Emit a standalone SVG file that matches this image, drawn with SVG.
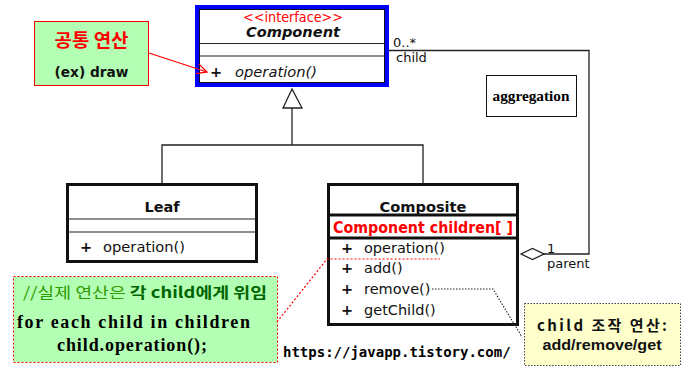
<svg xmlns="http://www.w3.org/2000/svg" width="689" height="381" viewBox="0 0 689 381">
<defs>
<style>
.uml{font-family:"DejaVu Sans","Liberation Sans",sans-serif;font-size:14.5px;fill:#111}
.b{font-weight:bold}
.box{fill:#fff;stroke:#111;stroke-width:3}
.sep{stroke:#222;stroke-width:1.2}
.conn{fill:none;stroke:#222;stroke-width:1.3}
.kr{font-family:"Noto Sans CJK KR","Noto Sans",sans-serif;font-weight:bold}
.tm{font-family:"Liberation Serif","DejaVu Serif",serif;font-weight:bold}
</style>
<marker id="redOpen" markerWidth="12" markerHeight="12" refX="11" refY="6" orient="auto" markerUnits="userSpaceOnUse">
<path d="M1,1 L11,6 L1,11" fill="none" stroke="red" stroke-width="1.3"/>
</marker>
</defs>
<rect width="689" height="381" fill="#fff"/>

<g id="component">
<rect x="197" y="7" width="190" height="78" fill="#fff" stroke="#0000ff" stroke-width="4"/>
<rect x="196" y="83" width="192" height="4" fill="#0000ff"/>
<rect x="199.5" y="9.5" width="185" height="73" fill="none" stroke="#111" stroke-width="1"/>
<line class="sep" x1="199" y1="43.5" x2="385" y2="43.5"/>
<line class="sep" x1="199" y1="56" x2="385" y2="56"/>
<text x="293" y="22" text-anchor="middle" fill="red" font-family="'DejaVu Sans Condensed','Liberation Sans Narrow',sans-serif" font-size="14" textLength="100" lengthAdjust="spacingAndGlyphs">&lt;&lt;interface&gt;&gt;</text>
<text class="uml b" x="293" y="37" text-anchor="middle" font-style="italic" textLength="94" lengthAdjust="spacingAndGlyphs">Component</text>
<text class="uml b" x="210" y="77">+</text>
<text class="uml" x="235" y="77" font-style="italic" textLength="82" lengthAdjust="spacingAndGlyphs">operation()</text>
</g>

<g id="leaf">
<rect class="box" x="67.5" y="184.5" width="189" height="77"/>
<line class="sep" x1="68" y1="219" x2="256" y2="219"/>
<line class="sep" x1="68" y1="232" x2="256" y2="232"/>
<text class="uml b" x="162" y="212" text-anchor="middle">Leaf</text>
<text class="uml b" x="80" y="252">+</text>
<text class="uml" x="103" y="252" textLength="82" lengthAdjust="spacingAndGlyphs">operation()</text>
</g>

<g id="composite">
<rect class="box" x="328.5" y="184.5" width="189" height="140"/>
<rect x="328.5" y="215" width="189" height="23" fill="#fff" stroke="#111" stroke-width="3"/>
<text class="uml b" x="423" y="212" text-anchor="middle" textLength="87" lengthAdjust="spacingAndGlyphs">Composite</text>
<text x="333" y="233" fill="red" font-family="'DejaVu Sans','Liberation Sans',sans-serif" font-weight="bold" font-size="15" textLength="180" lengthAdjust="spacingAndGlyphs">Component children[ ]</text>
<text class="uml b" x="341" y="253">+</text>
<text class="uml" x="364" y="253">operation()</text>
<text class="uml b" x="341" y="273">+</text>
<text class="uml" x="364" y="273">add()</text>
<text class="uml b" x="341" y="294">+</text>
<text class="uml" x="364" y="294">remove()</text>
<text class="uml b" x="341" y="315">+</text>
<text class="uml" x="364" y="315">getChild()</text>
</g>

<g id="aggregation-label">
<rect x="486.5" y="75.5" width="90" height="41" fill="#fff" stroke="#111" stroke-width="1"/>
<text class="tm" x="531" y="101" text-anchor="middle" font-size="14" textLength="77" lengthAdjust="spacingAndGlyphs" style="font-family:'Liberation Serif','DejaVu Serif',serif">aggregation</text>
</g>

<g id="note-common">
<rect x="34.5" y="21.5" width="114" height="64" fill="#b3ffb3" stroke="red" stroke-width="1"/>
<text class="kr" x="91.5" y="47" text-anchor="middle" fill="red" font-size="18" textLength="74" lengthAdjust="spacingAndGlyphs">공통 연산</text>
<text x="91.5" y="77" text-anchor="middle" fill="#111" font-family="'DejaVu Sans',sans-serif" font-weight="bold" font-size="14" textLength="74" lengthAdjust="spacingAndGlyphs">(ex)  draw</text>
</g>

<g id="note-delegate">
<rect x="13.5" y="276.5" width="264" height="86" fill="#b3ffb3" stroke="red" stroke-width="1" stroke-dasharray="2,2"/>
<text class="kr" x="145" y="298" text-anchor="middle" font-size="15" textLength="244" lengthAdjust="spacingAndGlyphs"><tspan fill="#2e9a00" font-weight="normal">//실제 연산은 </tspan><tspan fill="#006400">각 child에게 위임</tspan></text>
<text class="tm" x="17" y="328" font-size="18" fill="#000" textLength="233" lengthAdjust="spacing" style="font-family:'Liberation Serif','DejaVu Serif',serif">for each child in children</text>
<text class="tm" x="57" y="351" font-size="18" fill="#000" textLength="150" lengthAdjust="spacing" style="font-family:'Liberation Serif','DejaVu Serif',serif">child.operation();</text>
</g>

<g id="note-child">
<rect x="524.5" y="303.5" width="156" height="62" fill="#ffffcc" stroke="#444" stroke-width="1" stroke-dasharray="1.5,1.5"/>
<text class="kr" x="602" y="331" text-anchor="middle" font-size="15" fill="#111" textLength="130" lengthAdjust="spacing">child 조작 연산:</text>
<text x="602" y="350" text-anchor="middle" font-family="'Liberation Sans',sans-serif" font-weight="bold" font-size="14" fill="#111" textLength="119" lengthAdjust="spacingAndGlyphs">add/remove/get</text>
</g>

<text x="283" y="357" font-family="'DejaVu Sans Mono',monospace" font-weight="bold" font-size="14" fill="#000">https://javapp.tistory.com/</text>

<g id="connectors">
<polyline class="conn" points="162,183 162,145 423,145 423,183"/>
<line class="conn" x1="292" y1="145" x2="292" y2="108"/>
<polygon points="292,89 283,108 302,108" fill="#fff" stroke="#222" stroke-width="1.3"/>
<polyline class="conn" points="389,50.5 589,50.5 589,254 544,254"/>
<polygon points="521,254 532.5,248.5 544,254 532.5,259.5" fill="#fff" stroke="#222" stroke-width="1.3"/>
<text class="uml" x="393" y="47" style="font-size:13px">0..*</text>
<text class="uml" x="396" y="62" style="font-size:13px">child</text>
<text class="uml" x="547" y="253" style="font-size:13px">1</text>
<text class="uml" x="547" y="268" style="font-size:13px">parent</text>
<line x1="149" y1="53" x2="207" y2="72" stroke="red" stroke-width="1.3" marker-end="url(#redOpen)"/>
<polyline points="277,322 327,259 440,259" fill="none" stroke="red" stroke-width="1.2" stroke-dasharray="2,2"/>
<polyline points="432,289 493,289 522,337" fill="none" stroke="#222" stroke-width="1.1" stroke-dasharray="1.5,1.5"/>
</g>
</svg>
